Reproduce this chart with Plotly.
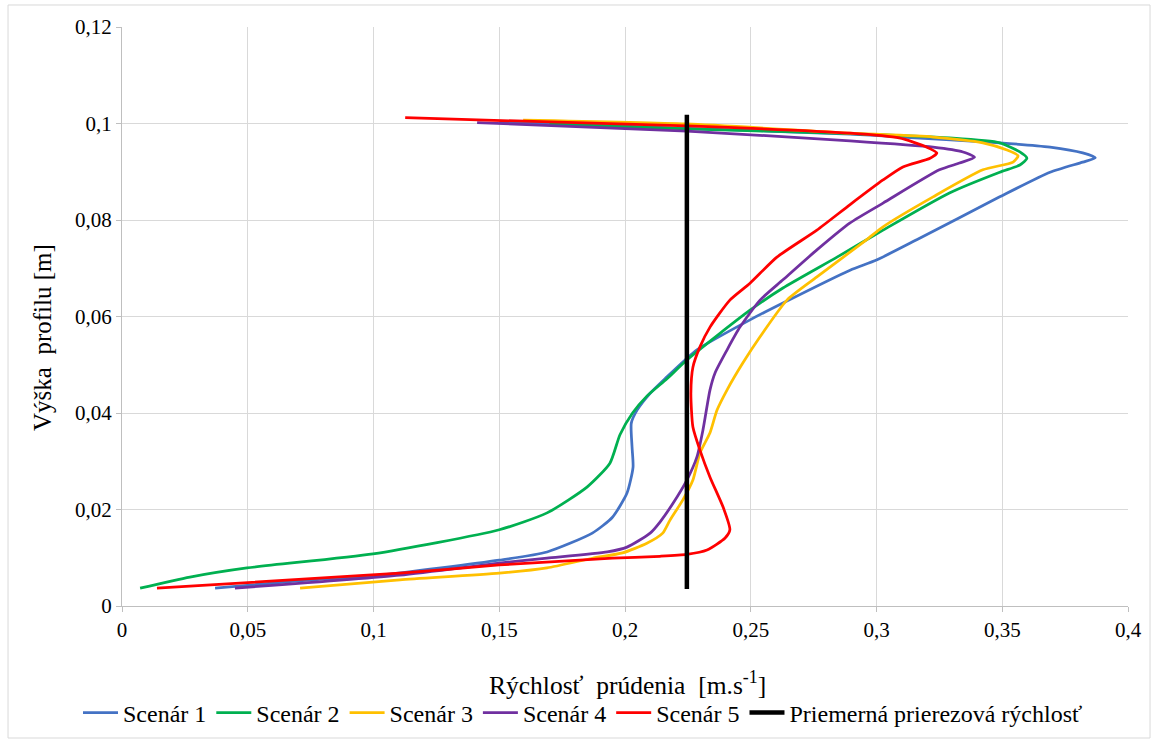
import plotly.graph_objects as go

# ---- data ----
s1_x = [0.037, 0.07, 0.1026, 0.150, 0.169, 0.187, 0.195, 0.2008, 0.2032, 0.2028, 0.2025, 0.2048, 0.21, 0.2167, 0.2239,
        0.2286, 0.2497, 0.2628, 0.2895, 0.300, 0.316, 0.349, 0.369, 0.382, 0.387, 0.382, 0.369, 0.349, 0.31, 0.2895,
        0.2246, 0.18, 0.15]
s1_y = [0.0037, 0.0052, 0.0064, 0.0095, 0.0112, 0.0151, 0.0184, 0.0234, 0.0288, 0.033, 0.0379, 0.0406, 0.0441, 0.0475, 0.051,
        0.0531, 0.0593, 0.0628, 0.0696, 0.0717, 0.0759, 0.0848, 0.0899, 0.092, 0.0929, 0.0939, 0.0951, 0.096, 0.0972, 0.0978,
        0.099, 0.0998, 0.1003]

s2_x = [0.0072, 0.027, 0.0497, 0.0998, 0.150, 0.169, 0.185, 0.194, 0.198, 0.203, 0.2087, 0.2167, 0.2246, 0.2497, 0.2628,
        0.2843, 0.3026, 0.329, 0.349, 0.357, 0.3598, 0.357, 0.349, 0.329, 0.2895, 0.2246, 0.19, 0.17]
s2_y = [0.0037, 0.006, 0.0079, 0.0108, 0.0158, 0.0193, 0.0247, 0.0296, 0.0355, 0.0400, 0.0435, 0.0471, 0.051, 0.0613, 0.0659,
        0.0723, 0.0779, 0.0856, 0.0899, 0.0914, 0.0928, 0.0941, 0.096, 0.097, 0.0979, 0.0989, 0.0995, 0.0999]

s3_x = [0.0708, 0.1105, 0.150, 0.169, 0.187, 0.199, 0.2087, 0.215, 0.2179, 0.223, 0.227, 0.2298, 0.2338, 0.2366, 0.2406,
        0.2469, 0.2537, 0.2644, 0.2763, 0.296, 0.3026, 0.3225, 0.3423, 0.3543, 0.3563, 0.3519, 0.3423, 0.3225, 0.2895,
        0.2246, 0.1595]
s3_y = [0.0037, 0.0054, 0.0068, 0.0079, 0.0099, 0.011, 0.013, 0.0151, 0.0178, 0.022, 0.0261, 0.0317, 0.0359, 0.0406, 0.0448,
        0.0504, 0.0558, 0.0634, 0.0682, 0.0759, 0.0786, 0.0848, 0.0904, 0.092, 0.0933, 0.0945, 0.096, 0.0972, 0.098,
        0.0999, 0.1007]

s4_x = [0.0449, 0.1105, 0.150, 0.169, 0.193, 0.2008, 0.21, 0.2139, 0.2191, 0.2246, 0.2286, 0.231, 0.2338, 0.2358, 0.2406,
        0.2457, 0.2537, 0.2628, 0.2763, 0.2895, 0.3026, 0.325, 0.333, 0.339, 0.3344, 0.3225, 0.2895, 0.2246, 0.1412]
s4_y = [0.0037, 0.0064, 0.0089, 0.0099, 0.0112, 0.0122, 0.0151, 0.0174, 0.0213, 0.0261, 0.0309, 0.0365, 0.0448, 0.0483, 0.0531,
        0.0578, 0.0634, 0.0676, 0.0738, 0.0794, 0.0835, 0.0904, 0.0918, 0.093, 0.0941, 0.0951, 0.0964, 0.0984, 0.1002]

s5_x = [0.0139, 0.1105, 0.150, 0.195, 0.2139, 0.2246, 0.2326, 0.2398, 0.2417, 0.239, 0.2338, 0.2298, 0.227, 0.2262, 0.227,
        0.2298, 0.2338, 0.2417, 0.2497, 0.2604, 0.2763, 0.2895, 0.3026, 0.3105, 0.3213, 0.324, 0.32, 0.309, 0.2895,
        0.2246, 0.1126]
s5_y = [0.0037, 0.0068, 0.0085, 0.0099, 0.0103, 0.0107, 0.0116, 0.0141, 0.0158, 0.0205, 0.0267, 0.0323, 0.0371, 0.0441, 0.0495,
        0.0537, 0.0578, 0.0634, 0.0669, 0.0723, 0.0779, 0.0832, 0.0883, 0.091, 0.0928, 0.0939, 0.0951, 0.097, 0.098,
        0.0995, 0.1012]

avg_x = [0.2246, 0.2246]
avg_y = [0.0035, 0.1018]

names = ["Scenár 1", "Scenár 2", "Scenár 3", "Scenár 4", "Scenár 5", "Priemerná prierezová rýchlosť"]
colors = ["#4472C4", "#00B050", "#FFC000", "#7030A0", "#FF0000", "#000000"]

x_ticks = [0, 0.05, 0.1, 0.15, 0.2, 0.25, 0.3, 0.35, 0.4]
x_labels = ["0", "0,05", "0,1", "0,15", "0,2", "0,25", "0,3", "0,35", "0,4"]
y_ticks = [0, 0.02, 0.04, 0.06, 0.08, 0.1, 0.12]
y_labels = ["0", "0,02", "0,04", "0,06", "0,08", "0,1", "0,12"]

x_title = "Rýchlosť  prúdenia  [m.s<sup>-1</sup>]"
y_title = "Výška  profilu [m]"

FONT = "Times New Roman, Liberation Serif, serif"

fig = go.Figure()
series = [(s1_x, s1_y), (s2_x, s2_y), (s3_x, s3_y), (s4_x, s4_y), (s5_x, s5_y)]
for (xs, ys), n, c in zip(series, names[:5], colors[:5]):
    fig.add_trace(go.Scatter(x=xs, y=ys, mode="lines", name=n,
                             line=dict(color=c, width=2.75, shape="spline", smoothing=0.6)))
fig.add_trace(go.Scatter(x=avg_x, y=avg_y, mode="lines", name=names[5],
                         line=dict(color=colors[5], width=4.5)))

fig.update_layout(
    width=1154, height=742,
    margin=dict(l=122, r=26, t=27, b=136),
    paper_bgcolor="white", plot_bgcolor="white",
    font=dict(family=FONT, size=21, color="#000000"),
    showlegend=True,
    legend=dict(orientation="h", xref="container", yref="container",
                x=78 / 1154, xanchor="left", y=(742 - 713) / 742, yanchor="middle",
                font=dict(size=24, family=FONT, color="#000000"), itemwidth=35, tracegroupgap=0,
                bgcolor="rgba(0,0,0,0)"),
    xaxis=dict(range=[0, 0.4], tickvals=x_ticks, ticktext=x_labels, automargin=False,
               showgrid=True, gridcolor="#d9d9d9", gridwidth=1,
               showline=True, linecolor="#bfbfbf", linewidth=1,
               ticks="outside", ticklen=5, tickcolor="#bfbfbf",
               zeroline=False, tickfont=dict(size=21, family=FONT, color="#000000")),
    yaxis=dict(range=[0, 0.12], tickvals=y_ticks, ticktext=y_labels, automargin=False,
               showgrid=True, gridcolor="#d9d9d9", gridwidth=1,
               showline=True, linecolor="#bfbfbf", linewidth=1,
               ticks="outside", ticklen=5, tickcolor="#bfbfbf",
               zeroline=False, tickfont=dict(size=21, family=FONT, color="#000000")),
    annotations=[
        dict(text=x_title, xref="paper", yref="paper", x=(627.5 - 122) / 1006, y=(606 - 683) / 579,
             xanchor="center", yanchor="middle", showarrow=False,
             font=dict(size=25.5, family=FONT, color="#000000")),
        dict(text=y_title, xref="paper", yref="paper", x=(42 - 122) / 1006, y=(606 - 338) / 579,
             xanchor="center", yanchor="middle", showarrow=False, textangle=-90,
             font=dict(size=25, family=FONT, color="#000000")),
    ],
    shapes=[dict(type="rect", xref="paper", yref="paper",
                 x0=-0.1133, x1=1.0219, y0=-0.228, y1=1.038,
                 line=dict(color="#d9d9d9", width=1), fillcolor="rgba(0,0,0,0)", layer="below")],
)

fig.write_html("out.html", config={"displayModeBar": False},
               post_script="document.body.style.margin='0';")
